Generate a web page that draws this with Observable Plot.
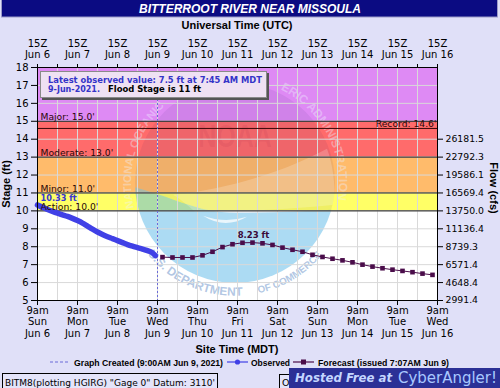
<!DOCTYPE html>
<html>
<head>
<meta charset="utf-8">
<script src="https://cdn.jsdelivr.net/npm/d3@7"></script>
<script src="https://cdn.jsdelivr.net/npm/@observablehq/plot@0.6"></script>
<style>
  html, body { margin: 0; padding: 0; background: #e0e0f8; }
  body { width: 500px; height: 388px; overflow: hidden; position: relative; }
  #chart, #overlay { position: absolute; left: 0; top: 0; }
  #overlay { pointer-events: none; }
</style>
</head>
<body>
<div id="chart"></div>
<svg id="overlay" width="500" height="388"></svg>
<script>
// ---------------- data ----------------
const chartTitle = "BITTERROOT RIVER NEAR MISSOULA";
const axisStart = "2021-06-06 09:00";
const axisEnd = "2021-06-16 09:00";
const graphCreated = "2021-06-09 09:00";

const observedTime = [
  "2021-06-06 09:00","2021-06-06 12:00","2021-06-06 15:00","2021-06-06 18:00","2021-06-06 21:00",
  "2021-06-07 00:00","2021-06-07 03:00","2021-06-07 06:00","2021-06-07 09:00","2021-06-07 12:00",
  "2021-06-07 15:00","2021-06-07 18:00","2021-06-07 21:00","2021-06-08 00:00","2021-06-08 03:00",
  "2021-06-08 06:00","2021-06-08 09:00","2021-06-08 12:00","2021-06-08 15:00","2021-06-08 18:00",
  "2021-06-08 21:00","2021-06-09 00:00","2021-06-09 03:00","2021-06-09 06:00","2021-06-09 07:45"
];
const observedStage = [
  10.33, 10.20, 10.08, 9.97, 9.87,
  9.78, 9.69, 9.58, 9.46, 9.32,
  9.15, 8.98, 8.82, 8.68, 8.56,
  8.45, 8.34, 8.23, 8.12, 8.03,
  7.95, 7.87, 7.78, 7.66, 7.50
];

const forecastTime = [
  "2021-06-09 12:00","2021-06-09 18:00","2021-06-10 00:00","2021-06-10 06:00","2021-06-10 12:00",
  "2021-06-10 18:00","2021-06-11 00:00","2021-06-11 06:00","2021-06-11 12:00","2021-06-11 18:00",
  "2021-06-12 00:00","2021-06-12 06:00","2021-06-12 12:00","2021-06-12 18:00","2021-06-13 00:00",
  "2021-06-13 06:00","2021-06-13 12:00","2021-06-13 18:00","2021-06-14 00:00","2021-06-14 06:00",
  "2021-06-14 12:00","2021-06-14 18:00","2021-06-15 00:00","2021-06-15 06:00","2021-06-15 12:00",
  "2021-06-15 18:00","2021-06-16 00:00","2021-06-16 06:00"
];
const forecastStage = [
  7.42, 7.40, 7.40, 7.40, 7.52,
  7.72, 7.98, 8.14, 8.22, 8.23,
  8.19, 8.10, 7.95, 7.83, 7.72,
  7.55, 7.43, 7.33, 7.24, 7.13,
  7.00, 6.89, 6.80, 6.72, 6.65,
  6.58, 6.50, 6.43
];

const floodName = ["Action", "Minor", "Moderate", "Major"];
const floodStage = [10, 11, 13, 15];
const floodTop = [11, 13, 15, 18];
const floodColor = ["#ffff66", "#ffbb6b", "#ff6b6b", "#de8af4"];
const recordStage = 14.6;

const stageTicks = [5,6,7,8,9,10,11,12,13,14,15,16,17,18];
const flowTickStage = [5,6,7,8,9,10,11,12,13,14];
const flowTickLabel = ["2991.4","4648.4","6571.4","8739.3","11136.4","13750.0","16569.4","19586.1","22792.3","26181.5"];

const latestText = "Latest observed value: 7.5 ft at 7:45 AM MDT";
const latestDate = "9-Jun-2021.";
const floodText = "Flood Stage is 11 ft";
const legendCreated = "Graph Created (9:00AM Jun 9, 2021)";
const legendObserved = "Observed";
const legendForecast = "Forecast (issued 7:07AM Jun 9)";
const footerText = "BITM8(plotting HGIRG) \"Gage 0\" Datum: 3110'";

// ---------------- build ----------------
const parse = d3.utcParse("%Y-%m-%d %H:%M");
const observed = observedTime.map((t, i) => ({t: parse(t), v: observedStage[i]}));
const forecast = forecastTime.map((t, i) => ({t: parse(t), v: forecastStage[i]}));
const bands = floodStage.map((s, i) => ({lo: s, hi: floodTop[i], color: floodColor[i]}));
const floodLabels = floodStage.map((s, i) => ({s, label: `${floodName[i]}: ${s.toFixed(1)}'`}));
const t0 = parse(axisStart), t1 = parse(axisEnd);
const created = parse(graphCreated);
const dayTicks = d3.range(11).map(i => d3.utcDay.offset(t0, i));
const halfDayTicks = d3.range(21).map(i => d3.utcHour.offset(t0, 12 * i));
const innerHalfDay = halfDayTicks.slice(1, -1);
const fmtH = d3.utcFormat("%-I%p"), fmtA = d3.utcFormat("%a"), fmtB = d3.utcFormat("%b %-d");
const fmtZ = d3.utcFormat("%HZ");
const bottomFmt = d => `${fmtH(d).toLowerCase()}\n${fmtA(d)}\n${fmtB(d)}`;
const topFmt = d => {
  if ((d - t0) % 86400000 !== 0) return "";
  const u = d3.utcHour.offset(d, 6); // MDT -> UTC
  return `${fmtZ(u)}\n${fmtB(u)}`;
};
const peak = d3.greatest(forecast, d => d.v);

// faint NOAA-style watermark (decoration, placed relative to the frame)
function watermark(index, scales, values, dim) {
  const {width, height, marginLeft, marginRight, marginTop, marginBottom} = dim;
  const cx = marginLeft + (width - marginLeft - marginRight) * 0.495;
  const cy = marginTop + (height - marginTop - marginBottom) * 0.497;
  const R = 100;
  const g = d3.create("svg:g").attr("transform", `translate(${cx},${cy})`).attr("text-anchor", "start");
  g.append("clipPath").attr("id", "wmclip").append("circle").attr("r", R);
  const inner = g.append("g").attr("clip-path", "url(#wmclip)");
  inner.append("path")
    .attr("d", "M-110,-110 L110,-110 L110,26 C80,28 40,30 0,30 C-40,30 -60,14 -110,2 Z")
    .attr("fill", "#20206a").attr("fill-opacity", 0.07);
  inner.append("path")
    .attr("d", "M-110,2 C-60,14 -40,30 0,30 C40,30 80,28 110,26 L110,110 L-110,110 Z")
    .attr("fill", "#5ab8e8").attr("fill-opacity", 0.5);
  inner.append("path")
    .attr("d", "M-62,12 C-20,8 40,-6 92,-34 C98,-18 100,0 100,22 C60,26 10,29 -40,29 C-48,22 -55,16 -62,12 Z")
    .attr("fill", "#ffffff").attr("fill-opacity", 0.2);
  inner.append("path")
    .attr("d", "M-32,33 Q-10,47 12,34 Q-10,41 -32,33 Z")
    .attr("fill", "#ffffff").attr("fill-opacity", 0.75);
  inner.append("text").attr("x", 0).attr("y", -29).attr("text-anchor", "middle")
    .attr("transform", "scale(1,1.25)")
    .attr("font-family", "Liberation Sans").attr("font-weight", "bold").attr("font-size", 25)
    .attr("fill", "#a02040").attr("fill-opacity", 0.1).text("NOAA");
  const rad = a => a * Math.PI / 180;
  const pt = (r, a) => `${(r * Math.cos(rad(a))).toFixed(1)},${(r * Math.sin(rad(a))).toFixed(1)}`;
  const arcs = [
    {id: "wmt1", r: 104, a0: 166, a1: 232, sweep: 1, text: "NATIONAL OCEANIC", fill: "#eef0ff", op: 0.4},
    {id: "wmt2", r: 104, a0: 296, a1: 375, sweep: 1, text: "ERIC ADMINISTRATION", fill: "#eef0ff", op: 0.4},
    {id: "wmb1", r: 113, a0: 141, a1: 82, sweep: 0, text: "U.S. DEPARTMENT", fill: "#a9bfdf", op: 0.9},
    {id: "wmb2", r: 113, a0: 78, a1: 37, sweep: 0, text: "OF COMMERCE", fill: "#a9bfdf", op: 0.9}
  ];
  for (const a of arcs) {
    g.append("path").attr("id", a.id).attr("fill", "none")
      .attr("d", `M${pt(a.r, a.a0)} A${a.r},${a.r} 0 0 ${a.sweep} ${pt(a.r, a.a1)}`);
    g.append("text").attr("class", "wmring").attr("text-anchor", "start")
      .attr("data-len", (a.r * Math.abs(rad(a.a1 - a.a0))).toFixed(1))
      .attr("font-family", "Liberation Sans").attr("font-weight", "bold").attr("font-size", 13)
      .attr("fill", a.fill).attr("fill-opacity", a.op)
      .append("textPath").attr("href", `#${a.id}`).attr("startOffset", 0)
      .text(a.text);
  }
  return g.node();
}

const obsColor = "#4040e6";
const fcColor = "#4a0d4a";

const chart = Plot.plot({
  width: 500,
  height: 388,
  marginLeft: 37,
  marginRight: 63,
  marginTop: 67,
  marginBottom: 88,
  style: {background: "transparent", fontFamily: "DejaVu Sans", fontSize: "10px", color: "black", overflow: "visible"},
  x: {type: "utc", domain: [t0, t1]},
  y: {domain: [5, 18]},
  marks: [
    Plot.frame({fill: "white"}),
    Plot.rect(bands, {y1: "lo", y2: "hi", fill: "color"}),
    watermark,
    Plot.gridX(innerHalfDay, {stroke: "#d9d9d9", strokeOpacity: 1}),
    Plot.gridY(stageTicks.slice(1, -1), {stroke: "#d9d9d9", strokeOpacity: 1}),
    Plot.ruleY(floodStage, {stroke: "#1a1a1a", strokeWidth: 1}),
    Plot.ruleY([recordStage], {stroke: "#3a0808", strokeWidth: 1}),
    Plot.ruleX([created], {stroke: "#6a6ad8", strokeWidth: 1, strokeDasharray: "2,2"}),
    Plot.line(observed, {x: "t", y: "v", stroke: obsColor, strokeWidth: 5.5, strokeLinecap: "round", strokeLinejoin: "round", curve: "monotone-x"}),
    Plot.line(forecast, {x: "t", y: "v", stroke: fcColor, strokeWidth: 1}),
    Plot.dot(forecast, {x: "t", y: "v", symbol: "square", r: 2.6, fill: fcColor, stroke: null}),
    Plot.text(floodLabels, {y: "s", text: "label", frameAnchor: "left", textAnchor: "start", lineAnchor: "bottom", dx: 3, dy: -1, fill: "#2a0808", fontSize: 9.2}),
    Plot.text([recordStage], {y: d => d, text: d => `Record: ${d}'`, frameAnchor: "right", textAnchor: "end", lineAnchor: "bottom", dx: -1, dy: -1, fill: "#2a0808", fontSize: 9.2}),
    Plot.text([observed[0]], {x: "t", y: "v", text: d => `${d.v} ft`, textAnchor: "start", lineAnchor: "bottom", dx: 3, dy: -3.8, fill: "#3838d0", fontWeight: "bold", fontSize: 8.2}),
    Plot.text([peak], {x: "t", y: "v", text: d => `${d.v} ft`, textAnchor: "middle", lineAnchor: "bottom", dx: 1, dy: -5, fill: "#3a0a3a", fontWeight: "bold", fontSize: 8.5}),
    Plot.axisY({anchor: "left", ticks: stageTicks, tickSize: 6, tickPadding: 3, label: null, fontSize: 10}),
    Plot.axisY({anchor: "right", ticks: flowTickStage, tickFormat: d => flowTickLabel[flowTickStage.indexOf(d)], tickSize: 5, tickPadding: 3, label: null, fontSize: 9.3}),
    Plot.axisX({anchor: "bottom", ticks: dayTicks, tickFormat: bottomFmt, tickSize: 5, tickPadding: 0, lineHeight: 1.15, label: null, fontSize: 10}),
    Plot.axisX({anchor: "top", ticks: halfDayTicks, tickFormat: topFmt, tickSize: 4, tickPadding: 5.5, lineHeight: 1.15, label: null, fontSize: 10}),
    Plot.frame({stroke: "black"})
  ]
});
document.getElementById("chart").append(chart);

// ---------------- overlay text (title, axis titles, legend, footer) ----------------
const ov = d3.select("#overlay");
const LS = "Liberation Sans", DV = "DejaVu Sans";

// fit the watermark ring texts to their arcs by font size
d3.select(chart).selectAll("text.wmring").each(function () {
  const el = d3.select(this);
  const target = +el.attr("data-len");
  const tmp = ov.append("text").attr("font-family", LS).attr("font-weight", "bold").attr("font-size", 13)
    .text(el.select("textPath").text());
  const natural = tmp.node().getComputedTextLength();
  tmp.remove();
  if (natural > 0) el.attr("font-size", (13 * target / natural * 0.93).toFixed(2));
});

function txt(x, y, s, o = {}) {
  const t = ov.append("text").attr("x", x).attr("y", y).text(s)
    .attr("font-family", o.family || LS).attr("font-size", o.size || 11)
    .attr("font-weight", o.weight || "normal").attr("font-style", o.style || "normal")
    .attr("fill", o.fill || "black").attr("text-anchor", o.anchor || "start");
  if (o.len) t.attr("textLength", o.len).attr("lengthAdjust", "spacingAndGlyphs");
  if (o.transform) t.attr("transform", o.transform);
  return t;
}
// title bar
ov.append("rect").attr("x", 1.5).attr("y", -1).attr("width", 496).attr("height", 18)
  .attr("fill", "#0b0b82").attr("stroke", "#9c9cc8");
txt(250, 13, chartTitle, {size: 12, weight: "bold", style: "italic", fill: "white", anchor: "middle"});
txt(237, 28.5, "Universal Time (UTC)", {size: 11, weight: "bold", anchor: "middle"});
txt(237, 353, "Site Time (MDT)", {size: 11, weight: "bold", anchor: "middle"});
txt(0, 0, "Stage (ft)", {size: 11, weight: "bold", anchor: "middle", transform: "translate(10,184) rotate(-90)"});
txt(0, 0, "Flow (cfs)", {size: 11, weight: "bold", anchor: "middle", transform: "translate(490,188) rotate(90)"});

// info box
ov.append("rect").attr("x", 42).attr("y", 73).attr("width", 227).attr("height", 27).attr("fill", "#555");
ov.append("rect").attr("x", 40.5).attr("y", 71.5).attr("width", 226).attr("height", 26)
  .attr("fill", "#efe1f3").attr("stroke", "#8a8a8a");
txt(48, 83.3, latestText, {family: DV, size: 8.4, weight: "bold", fill: "#3434c8", len: 214});
txt(48, 92, latestDate, {family: DV, size: 8.4, weight: "bold", fill: "#3434c8", len: 52});
txt(108, 92, floodText, {family: DV, size: 8.4, weight: "bold", fill: "black", len: 93});

// legend
ov.append("line").attr("x1", 50).attr("x2", 68).attr("y1", 362).attr("y2", 362)
  .attr("stroke", "#6a6ad8").attr("stroke-dasharray", "3,2");
txt(74, 365.5, legendCreated, {size: 9, weight: "bold", len: 149});
ov.append("line").attr("x1", 227).attr("x2", 248).attr("y1", 362).attr("y2", 362).attr("stroke", obsColor).attr("stroke-width", 1.2);
ov.append("circle").attr("cx", 237.5).attr("cy", 362).attr("r", 2.6).attr("fill", obsColor);
txt(251, 365.5, legendObserved, {size: 9, weight: "bold", len: 39});
ov.append("line").attr("x1", 293).attr("x2", 314).attr("y1", 362).attr("y2", 362).attr("stroke", fcColor).attr("stroke-width", 1.2);
ov.append("rect").attr("x", 301).attr("y", 359.5).attr("width", 5).attr("height", 5).attr("fill", fcColor);
txt(318, 365.5, legendForecast, {size: 9, weight: "bold", len: 131});

// footer
ov.append("rect").attr("x", 2.5).attr("y", 373.5).attr("width", 215).attr("height", 15)
  .attr("fill", "#e4e4fa").attr("stroke", "black");
txt(5, 385.5, footerText, {family: DV, size: 9.5, len: 210});
ov.append("rect").attr("x", 279.5).attr("y", 374.5).attr("width", 20).attr("height", 14)
  .attr("fill", "#e4e4fa").attr("stroke", "black");
txt(282, 386, "O", {family: DV, size: 9.5});
ov.append("rect").attr("x", 289).attr("y", 368).attr("width", 211).attr("height", 20).attr("fill", "#2b3096");
txt(295, 382, "Hosted Free at", {family: DV, size: 11.5, weight: "bold", style: "italic", fill: "#c4d6ff", len: 97});
txt(398, 383, "CyberAngler!", {family: DV, size: 15, fill: "#a8c8ff", len: 99});
</script>
</body>
</html>
